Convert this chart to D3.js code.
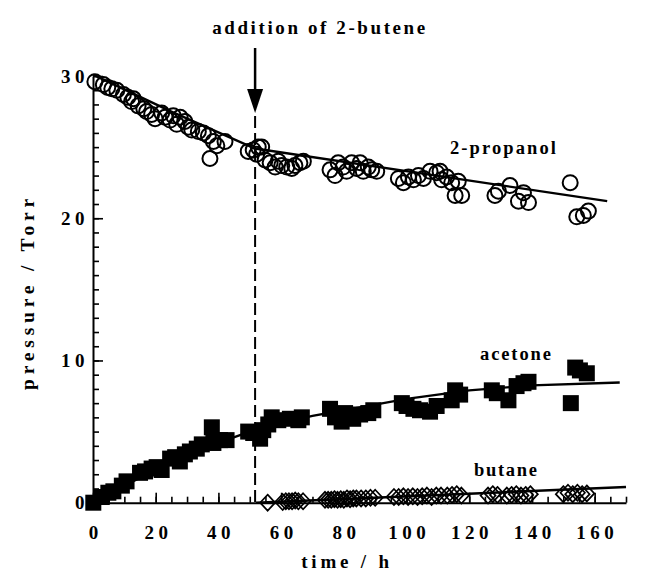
<!DOCTYPE html>
<html>
<head>
<meta charset="utf-8">
<script src="https://cdn.jsdelivr.net/npm/d3@7"></script>
<style>
  body { margin: 0; background: #fff; }
  text { font-family: "Liberation Serif", "Times New Roman", serif; font-weight: bold; }
</style>
</head>
<body>
<svg id="chart" width="648" height="576"></svg>
<script>
// values (time in h, pressure in Torr)
const propT = [0.6,3.3,4.7,6.0,7.6,9.7,11.1,12.3,12.9,14.4,16.2,17.1,18.7,19.8,21.9,23.0,24.6,25.6,26.7,27.8,29.3,30.4,31.5,33.6,35.2,36.8,37.3,38.4,39.5,42.1,
  49.5,51.1,52.2,52.7,53.8,54.9,56.5,58.1,59.1,60.2,61.8,63.4,64.4,66.0,67.1,75.6,77.2,78.2,79.8,80.9,82.5,84.1,85.2,86.2,87.8,88.9,90.5,
  97.4,99.0,100.6,102.2,103.8,105.4,107.5,109.6,110.7,111.2,112.8,114.4,115.5,116.5,117.6,128.2,129.3,133.0,135.7,137.3,138.9,152.2,154.3,156.4,158.0];
const propP = [29.6,29.4,29.2,29.1,29.0,28.7,28.5,28.2,28.4,27.9,27.7,27.5,27.3,27.0,27.4,27.1,26.9,27.2,26.6,27.1,26.8,26.4,26.2,26.1,26.0,25.8,24.2,25.4,25.1,25.4,
  24.7,24.8,24.5,25.0,25.0,24.1,23.9,23.6,24.0,23.7,23.6,23.5,23.7,23.9,24.0,23.4,23.0,23.9,23.6,23.3,23.9,23.5,23.9,23.3,23.6,23.4,23.3,
  22.8,22.5,22.9,22.7,23.0,22.8,23.3,23.2,23.3,22.7,22.9,22.5,21.6,22.6,21.6,21.6,21.9,22.3,21.2,21.8,21.1,22.5,20.1,20.2,20.5];

const aceT = [0.1,2.8,4.9,6.5,9.2,10.7,15.0,16.6,18.7,20.3,21.9,24.6,26.2,27.7,29.3,30.9,33.1,34.7,37.9,38.4,40.5,42.6,
  49.5,51.1,53.3,54.3,55.9,57.0,59.1,62.8,65.5,66.6,75.6,77.2,79.3,80.4,81.4,83.0,85.2,87.8,89.4,
  98.5,100.0,102.2,104.3,107.5,109.6,114.4,115.5,117.1,127.2,128.8,132.5,135.1,137.3,138.9,152.4,153.8,155.3,157.5];
const aceP = [0.0,0.4,0.7,0.8,1.2,1.5,2.1,2.2,2.4,2.5,2.3,3.1,3.2,2.9,3.4,3.6,3.8,4.1,5.3,4.2,4.4,4.4,
  5.0,4.9,4.5,5.1,5.5,6.0,5.8,5.9,5.8,6.0,6.6,6.0,5.7,6.3,6.0,5.9,6.2,6.3,6.5,
  7.0,6.8,6.6,6.5,6.4,6.8,7.2,7.9,7.6,7.9,7.7,7.2,8.2,8.4,8.5,7.0,9.5,9.3,9.1];

const butT = [55.7,60.5,61.5,62.5,63.5,64.5,65.5,67.0,74,75,76,77,78,79,80,81,82,83,84,85.5,87,88.5,90,
  96,97.5,99,100.5,102,103.5,105,106.5,108,109.5,111,113,114.5,116,117.5,
  126,127.5,129,132,133.5,135,136.5,138,139.5,150,151.5,153,154.5,156,157.5];
const butP = [0.0,0.05,0.1,0.1,0.1,0.15,0.1,0.1,0.2,0.2,0.2,0.25,0.2,0.25,0.2,0.3,0.25,0.3,0.3,0.3,0.3,0.35,0.35,
  0.4,0.4,0.45,0.4,0.45,0.4,0.45,0.5,0.4,0.5,0.5,0.5,0.55,0.6,0.5,
  0.5,0.6,0.55,0.5,0.55,0.6,0.5,0.55,0.6,0.6,0.7,0.6,0.7,0.6,0.65];

// fitted curves
const propFitT = [0, 25, 51.7, 164];
const propFitP = [30.1, 27.5, 24.9, 21.2];
const aceFitT = [0, 10, 20, 30, 40, 50, 60, 70, 80, 90, 100, 110, 120, 140, 168];
const aceFitP = [0.1, 1.2, 2.3, 3.3, 4.2, 5.0, 5.6, 6.1, 6.5, 6.9, 7.3, 7.6, 7.9, 8.25, 8.45];
const butFitT = [52, 170];
const butFitP = [0, 1.1];

const additionTime = 51.7;

const xMajor = [0, 20, 40, 60, 80, 100, 120, 140, 160];
const yMajor = [0, 10, 20, 30];

const svg = d3.select("#chart");
const x = d3.scaleLinear().domain([0, 170]).range([93, 626]);
const y = d3.scaleLinear().domain([0, 30]).range([502.7, 76]);

const zip = (a, b) => a.map((v, i) => [v, b[i]]);

// axes
const gx = svg.append("g").attr("transform", `translate(0,${y(0)})`);
gx.call(d3.axisBottom(x).tickValues(d3.range(0, 171, 5)).tickSize(-6).tickSizeOuter(0).tickFormat(""));
const gx2 = svg.append("g").attr("transform", `translate(0,${y(0)})`);
gx2.call(d3.axisBottom(x).tickValues(xMajor).tickSize(-10).tickSizeOuter(0).tickPadding(23));
gx2.select(".domain").remove();

const gy = svg.append("g").attr("transform", `translate(${x(0)},0)`);
gy.call(d3.axisLeft(y).tickValues(d3.range(0, 31, 1)).tickSize(-6).tickSizeOuter(0).tickFormat(""));
const gy2 = svg.append("g").attr("transform", `translate(${x(0)},0)`);
gy2.call(d3.axisLeft(y).tickValues(yMajor).tickSize(-10).tickSizeOuter(0).tickPadding(5));
gy2.select(".domain").remove();

svg.selectAll(".domain").attr("stroke-width", 2);
svg.selectAll(".tick line").attr("stroke-width", 1.6);
svg.selectAll(".tick text")
  .attr("font-family", "Liberation Serif, Times New Roman, serif")
  .attr("font-size", 19)
  .attr("fill", "#000")
  .style("letter-spacing", "4.5px");
gx2.selectAll(".tick text").attr("dx", 2.2);
gy2.selectAll(".tick text").attr("dx", 1);

// addition marker
svg.append("line")
  .attr("x1", x(additionTime)).attr("x2", x(additionTime))
  .attr("y1", 116).attr("y2", y(0))
  .attr("stroke", "#000").attr("stroke-width", 2)
  .attr("stroke-dasharray", "12,5");
svg.append("line")
  .attr("x1", x(additionTime)).attr("x2", x(additionTime))
  .attr("y1", 48).attr("y2", 96)
  .attr("stroke", "#000").attr("stroke-width", 2.5);
svg.append("path")
  .attr("d", `M${x(additionTime) - 8},89 L${x(additionTime) + 8},89 L${x(additionTime)},113 Z`)
  .attr("fill", "#000");

// fit lines
const line = d3.line().x(d => x(d[0])).y(d => y(d[1]));
[[propFitT, propFitP], [aceFitT, aceFitP], [butFitT, butFitP]].forEach(([t, p]) => {
  svg.append("path")
    .attr("d", line(zip(t, p)))
    .attr("fill", "none").attr("stroke", "#000").attr("stroke-width", 2.4);
});

// 2-propanol: open circles
svg.append("g").selectAll("circle")
  .data(zip(propT, propP))
  .join("circle")
  .attr("cx", d => x(d[0])).attr("cy", d => y(d[1]))
  .attr("r", 7.5)
  .attr("fill", "none").attr("stroke", "#000").attr("stroke-width", 2);

// acetone: filled squares
svg.append("g").selectAll("rect")
  .data(zip(aceT, aceP))
  .join("rect")
  .attr("x", d => x(d[0]) - 8).attr("y", d => y(d[1]) - 8)
  .attr("width", 16).attr("height", 16)
  .attr("fill", "#000");

// butane: open diamonds
svg.append("g").selectAll("path")
  .data(zip(butT, butP))
  .join("path")
  .attr("d", d => {
    const cx = x(d[0]), cy = y(d[1]);
    return `M${cx},${cy - 8} L${cx + 7.5},${cy} L${cx},${cy + 8} L${cx - 7.5},${cy} Z`;
  })
  .attr("fill", "none").attr("stroke", "#000").attr("stroke-width", 1.7);

// texts
const label = (txt, px, py, size, spacing, anchor) => svg.append("text")
  .attr("x", px).attr("y", py)
  .attr("font-size", size)
  .attr("text-anchor", anchor || "start")
  .style("letter-spacing", spacing + "px")
  .text(txt);

label("addition of 2-butene", 320, 34, 19, 2.6, "middle");
label("2-propanol", 450, 154, 18.5, 2.1);
label("acetone", 480, 360, 18.5, 1.9);
label("butane", 474, 476, 18.5, 1.7);
label("time / h", 347, 568, 19, 3.8, "middle");

svg.append("text")
  .attr("transform", "translate(34,292) rotate(-90)")
  .attr("font-size", 19.5)
  .attr("text-anchor", "middle")
  .style("letter-spacing", "4.8px")
  .text("pressure / Torr");
</script>
</body>
</html>
